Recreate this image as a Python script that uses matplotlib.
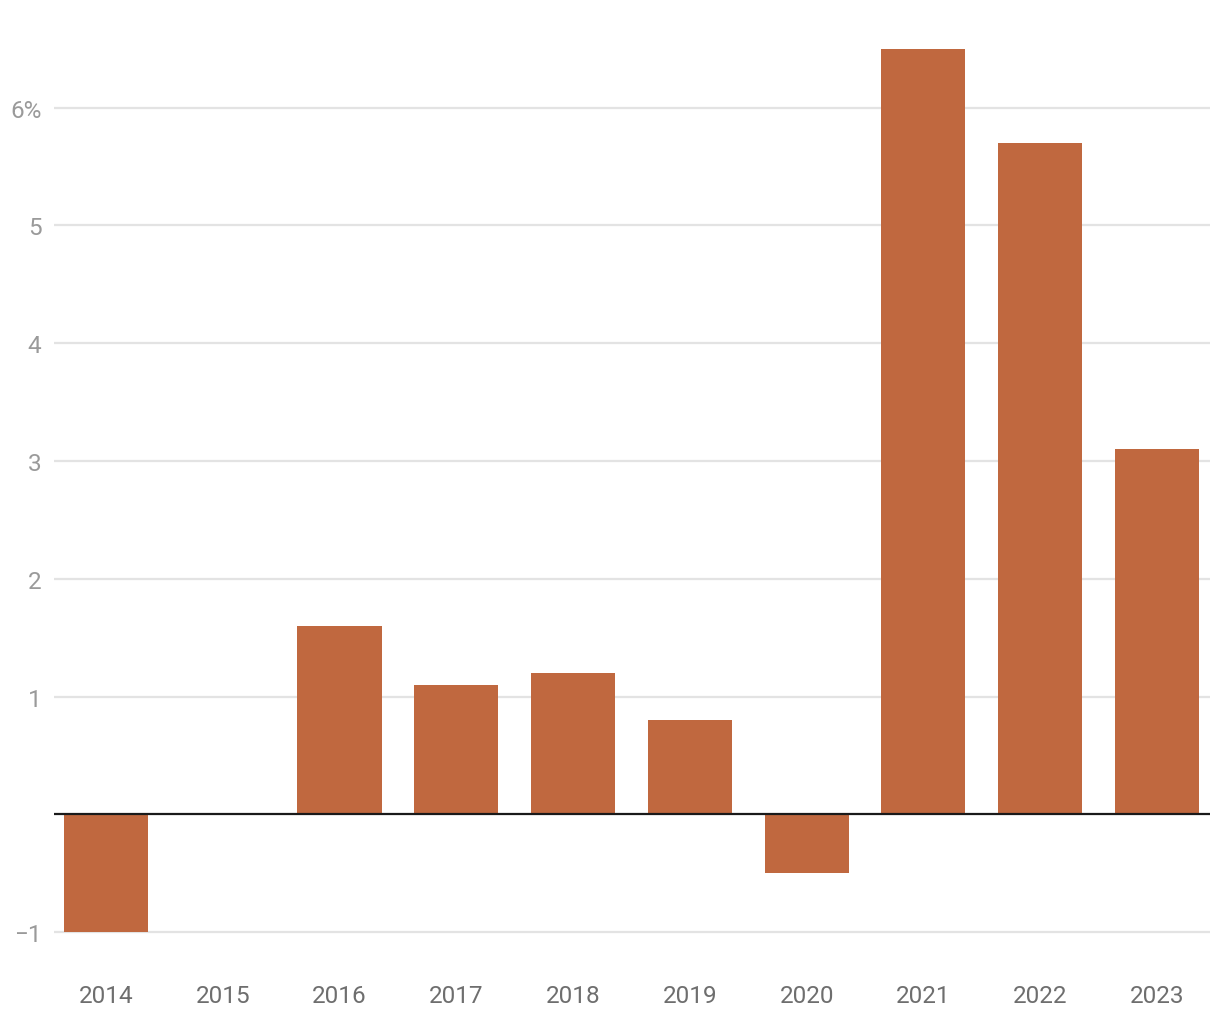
import matplotlib.pyplot as plt
import numpy as np

years = ['2014', '2015', '2016', '2017', '2018', '2019', '2020', '2021', '2022', '2023']
values = [-1.0, 0.0, 1.6, 1.1, 1.2, 0.8, -0.5, 6.5, 5.7, 3.1]
yticks = [-1, 1, 2, 3, 4, 5, 6]
ylabels = ['\u22121', '1', '2', '3', '4', '5', '6%']

plt.rcParams['font.family'] = ['Roboto', 'DejaVu Sans']

fig = plt.figure(figsize=(12.2, 10.2), dpi=100)
ax = fig.add_axes([54 / 1220, 1 - 945 / 1020, (1210 - 54) / 1220, (945 - 38) / 1020])

x = np.arange(len(years))
ax.bar(x, values, width=0.72, color='#c0683f', zorder=2)
ax.axhline(0, color='#1a1a1a', lw=1.6, zorder=3)

ax.set_xlim(-0.445, 9.454)
ax.set_ylim(-1.1, 6.6)
ax.set_yticks(yticks)
ax.set_yticklabels(ylabels)
ax.set_xticks(x)
ax.set_xticklabels(years)
ax.yaxis.grid(True, color='#e3e3e3', lw=1.6, zorder=0)
ax.set_axisbelow(True)

for s in ax.spines.values():
    s.set_visible(False)
ax.tick_params(axis='y', length=0, pad=9, labelsize=17.5, labelcolor='#9a9a9a')
ax.tick_params(axis='x', length=0, pad=29, labelsize=17.5, labelcolor='#6e6e6e')

fig.savefig('out.png', dpi=100)
